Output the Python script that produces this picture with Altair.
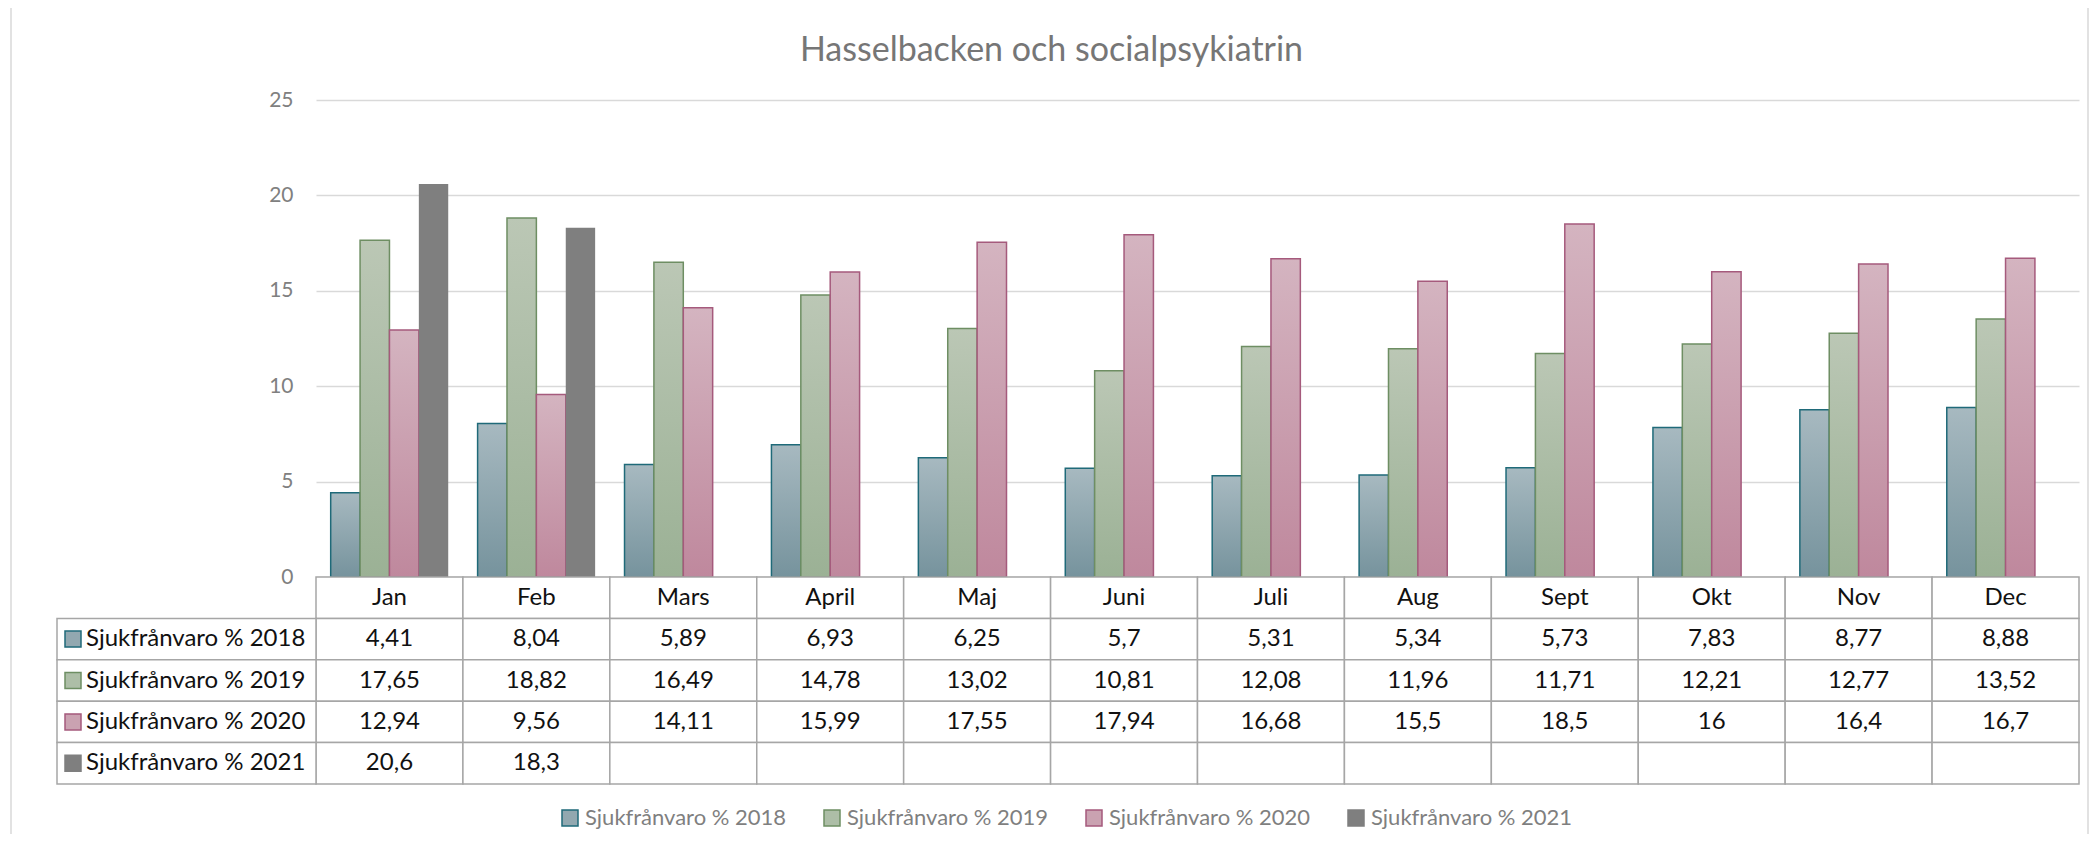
import altair as alt
import pandas as pd

months = ["Jan", "Feb", "Mars", "April", "Maj", "Juni", "Juli", "Aug", "Sept", "Okt", "Nov", "Dec"]
series = ["Sjukfrånvaro % 2018", "Sjukfrånvaro % 2019", "Sjukfrånvaro % 2020", "Sjukfrånvaro % 2021"]
v2018 = [4.41, 8.04, 5.89, 6.93, 6.25, 5.7, 5.31, 5.34, 5.73, 7.83, 8.77, 8.88]
v2019 = [17.65, 18.82, 16.49, 14.78, 13.02, 10.81, 12.08, 11.96, 11.71, 12.21, 12.77, 13.52]
v2020 = [12.94, 9.56, 14.11, 15.99, 17.55, 17.94, 16.68, 15.5, 18.5, 16, 16.4, 16.7]
v2021 = [20.6, 18.3, None, None, None, None, None, None, None, None, None, None]
y_ticks = [0, 5, 10, 15, 20, 25]
title_text = "Hasselbacken och socialpsykiatrin"

fill_top = ["#a7b9c0", "#bbc7b5", "#d4b4c0", "#7f7f7f"]
fill_bottom = ["#76939d", "#9bb195", "#bf889d", "#7f7f7f"]
stroke_cols = ["#1f6a79", "#6e8e63", "#a55a7c", "#7f7f7f"]
legend_fill = ["#92a8b0", "#adbea7", "#caa2b1", "#7f7f7f"]

FONT = "Lato"
W, H = 1763, 684
BAR_H = 477
HDR_W = 259

def fmt(v):
    if v is None:
        return ""
    return f"{v:g}".replace(".", ",")

values = [v2018, v2019, v2020, v2021]
rows = []
for s, vals in zip(series, values):
    for m, v in zip(months, vals):
        rows.append({"month": m, "series": s, "value": v, "label": fmt(v), "row": s})
df = pd.DataFrame(rows)

row_keys = ["hdr"] + series
hdr_rows = [{"month": m, "series": "", "value": None, "label": m, "row": "hdr"} for m in months]
cells = pd.DataFrame(hdr_rows + rows)
side = pd.DataFrame({"col": ["hdr"] * 4, "row": series, "series": series})

x_bar = alt.X("month:N", sort=months,
              scale=alt.Scale(domain=months, paddingInner=0.2, paddingOuter=0.1), axis=None)
y_axis = alt.Axis(values=y_ticks, title=None, domain=False, ticks=False, labelPadding=23,
                  labelFontSize=21, labelColor="#808080", labelFont=FONT,
                  gridColor="#d9d9d9", gridWidth=1.5)

bar_layers = []
for i, s in enumerate(series):
    grad = alt.Gradient(gradient="linear",
                        stops=[alt.GradientStop(color=fill_top[i], offset=0),
                               alt.GradientStop(color=fill_bottom[i], offset=1)],
                        x1=0, x2=0, y1=0, y2=1)
    bar_layers.append(
        alt.Chart(df).transform_filter(alt.datum.series == s)
        .mark_bar(fill=grad, stroke=stroke_cols[i], strokeWidth=1.5 if i < 3 else 0)
        .encode(
            x=x_bar,
            xOffset=alt.XOffset("series:N", scale=alt.Scale(domain=series)),
            y=alt.Y("value:Q", scale=alt.Scale(domain=[0, 25], range=[BAR_H, 0]), axis=y_axis),
        )
    )
bars = alt.layer(*bar_layers)

y_tab = alt.Y("row:N", scale=alt.Scale(domain=row_keys, range=[BAR_H, H], paddingInner=0, paddingOuter=0), axis=None)
x_tab = alt.X("month:N", scale=alt.Scale(domain=months, range=[0, W], paddingInner=0, paddingOuter=0), axis=None)

tab_cells = alt.Chart(cells).mark_rect(fill="white", stroke="#a6a6a6", strokeWidth=1.5).encode(x=x_tab, y=y_tab)
tab_text = alt.Chart(cells).mark_text(font=FONT, fontSize=24, color="#111111", baseline="middle").encode(
    x=x_tab, y=y_tab, text="label:N")
table = alt.layer(tab_cells, tab_text)

side_scale = alt.Scale(domain=["hdr"], range=[-HDR_W, 0], paddingInner=0, paddingOuter=0)
x_side = alt.X("col:N", scale=side_scale, axis=None)
x_side_sq = alt.X("col:N", bandPosition=16 / HDR_W, scale=side_scale, axis=None)
x_side_tx = alt.X("col:N", bandPosition=29 / HDR_W, scale=side_scale, axis=None)
y_side = alt.Y("row:N", scale=alt.Scale(domain=row_keys, range=[BAR_H, H], paddingInner=0, paddingOuter=0), axis=None)

legend = alt.Legend(orient="none", legendX=243, legendY=707, direction="horizontal", columns=4,
                    title=None, symbolType="square", symbolSize=256, symbolStrokeWidth=1.5,
                    labelFont=FONT, labelFontSize=22, labelColor="#7f7f7f", labelOffset=4,
                    columnPadding=34, labelLimit=400)

side_cells = alt.Chart(side).mark_rect(fill="white", stroke="#a6a6a6", strokeWidth=1.5).encode(x=x_side, y=y_side)
side_sq = alt.Chart(side).mark_point(shape="square", size=256, filled=True, strokeWidth=1.5, opacity=1).encode(
    x=x_side_sq, y=y_side,
    fill=alt.Fill("series:N", scale=alt.Scale(domain=series, range=legend_fill), legend=legend),
    stroke=alt.Stroke("series:N", scale=alt.Scale(domain=series, range=stroke_cols), legend=legend),
)
side_text = alt.Chart(side).mark_text(font=FONT, fontSize=24, color="#111111", align="left", baseline="middle").encode(
    x=x_side_tx, y=y_side, text="series:N")
side_tab = alt.layer(side_cells, side_sq, side_text)

frame = alt.Chart(pd.DataFrame({"a": [0]})).mark_rect(fillOpacity=0, stroke="#d9d9d9", strokeWidth=1.5).encode(
    x=alt.value(-305), x2=alt.value(1772), y=alt.value(-96), y2=alt.value(736))

chart = alt.layer(frame, bars, table, side_tab).resolve_scale(
    x="independent", y="independent", fill="independent", stroke="independent"
).properties(
    width=W, height=H,
    title=alt.TitleParams(title_text, font=FONT, fontSize=34, fontWeight="normal", color="#767676",
                          anchor="middle", dx=-146, dy=69),
    autosize=alt.AutoSizeParams(type="none"),
    padding={"left": 308, "top": 92, "right": 11, "bottom": 50},
).configure_view(stroke=None)

chart.save("out.html", embed_options={"renderer": "svg", "actions": False})
